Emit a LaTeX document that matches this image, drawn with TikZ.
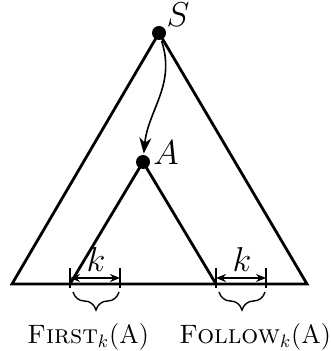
\documentclass[tikz,border=0pt]{standalone}
\usetikzlibrary{arrows.meta,decorations.pathreplacing}
\begin{document}
\begin{tikzpicture}[
  x=0.5pt, y=-0.5pt,
  line width=1.4pt,
  dot/.style={circle, fill, inner sep=0pt, minimum size=7pt},
  tick/.style={line width=0.7pt},
  span/.style={{Stealth[length=5pt,width=4pt]}-{Stealth[length=5pt,width=4pt]}, line width=0.7pt},
  brc/.style={decorate, decoration={brace, mirror, amplitude=9pt, aspect=0.5}, line width=0.7pt},
  lbl/.style={font=\fontsize{13.3}{16}\selectfont, inner sep=0pt}
]
\useasboundingbox (0,0) rectangle (330,351);
% derivation trees
\coordinate (bl) at (12,284);
\coordinate (br) at (307,284);
\coordinate (al) at (70,284);
\coordinate (ar) at (216,284);
\node[dot] (S) at (159,33) {};
\node[dot] (A) at (143,162) {};
\draw[line join=miter] (bl) -- (S.center) -- (br) -- cycle;
\draw (al) -- (A.center) -- (ar);
\node[font=\LARGE, inner sep=0pt] (Slab) at (178,15) {$S$};
\node[font=\LARGE, inner sep=0pt] (Alab) at (166,153) {$A$};
\draw[-{Stealth[length=8pt,width=6pt]}, line width=0.8pt] (S) .. controls (176,85) and (148,110) .. (A);
% k windows
\draw[tick] (70,268) -- (70,288);
\draw[tick] (120,268) -- (120,288);
\draw[span] (70,278) -- (120,278);
\node[font=\LARGE, inner sep=0pt] (k1) at (96,259) {$k$};
\draw[tick] (216,268) -- (216,288);
\draw[tick] (266,268) -- (266,288);
\draw[span] (216,278) -- (266,278);
\node[font=\LARGE, inner sep=0pt] (k2) at (242,259) {$k$};
\draw[brc] (73,292) -- (119,292);
\draw[brc] (219,292) -- (265,292);
\node[lbl] (first) at (88,337) {\textsc{First}$_k$(A)};
\node[lbl] (follow) at (255,337) {\textsc{Follow}$_k$(A)};
\end{tikzpicture}
\end{document}
